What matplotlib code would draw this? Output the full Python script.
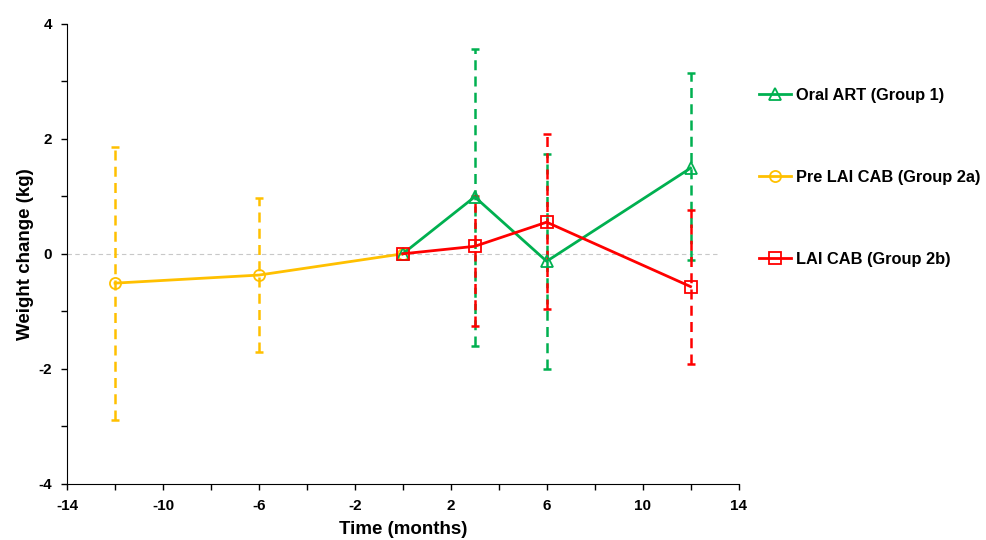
import matplotlib.pyplot as plt
from matplotlib.lines import Line2D

plt.rcParams['font.family'] = ['Liberation Sans', 'DejaVu Sans']
plt.rcParams['font.weight'] = 'bold'
plt.rcParams['axes.unicode_minus'] = False

# data (months, kg)
g1_x = [0, 3, 6, 12]
g1_y = [0, 0.99, -0.13, 1.49]
g1_up = [0, 3.56, 1.73, 3.14]
g1_lo = [0, -1.61, -2.00, -0.10]

g2a_x = [-12, -6, 0]
g2a_y = [-0.51, -0.37, 0]
g2a_up = [1.86, 0.97, 0]
g2a_lo = [-2.89, -1.70, 0]

g2b_x = [0, 3, 6, 12]
g2b_y = [0, 0.13, 0.55, -0.57]
g2b_up = [0, 1.00, 2.08, 0.77]
g2b_lo = [0, -1.25, -0.96, -1.91]

labels = ['Oral ART (Group 1)', 'Pre LAI CAB (Group 2a)', 'LAI CAB (Group 2b)']
colors = ['#00B050', '#FFC000', '#FF0000']
markers = ['^', 'o', 's']

fig = plt.figure(figsize=(9.86, 5.40), dpi=100)
ax = fig.add_axes([0.068, 0.104, 0.681, 0.852])

ax.plot([-14, 13.1], [0, 0], color='#c8c8c8', lw=0.8, ls=(0, (4, 3)), zorder=1)

series = [(g1_x, g1_y, g1_up, g1_lo), (g2a_x, g2a_y, g2a_up, g2a_lo), (g2b_x, g2b_y, g2b_up, g2b_lo)]
order = [1, 0, 2]
for i in order:
    x, y, up, lo = series[i]
    # only points with a real spread get an error bar
    keep = [k for k in range(len(x)) if up[k] - lo[k] > 0]
    xe = [x[k] for k in keep]
    ye = [y[k] for k in keep]
    ee = [[y[k] - lo[k] for k in keep], [up[k] - y[k] for k in keep]]
    eb = ax.errorbar(xe, ye, yerr=ee, fmt='none', ecolor=colors[i],
                     elinewidth=1.8, capsize=3, capthick=1.8, zorder=2)
    eb[2][0].set_linestyle((0, (4, 2.5)))
    ax.plot(x, y, color=colors[i], lw=2, marker=markers[i], ms=8,
            mfc='none', mec=colors[i], mew=1.3, zorder=3)

ax.set_xlim(-14, 14)
ax.set_ylim(-4, 4)
ax.set_xticks(range(-14, 15, 4))
ax.set_xticks(range(-14, 15, 2), minor=True)
ax.set_yticks(range(-4, 5, 2))
ax.set_yticks(range(-4, 5, 1), minor=True)
ax.tick_params(axis='both', which='both', direction='out', length=4, width=1,
               labelsize=11, pad=7)
for lab in ax.get_xticklabels() + ax.get_yticklabels():
    lab.set_fontweight('bold')
ax.spines['top'].set_visible(False)
ax.spines['right'].set_visible(False)
ax.set_xlabel('Time (months)', fontsize=13.5, fontweight='bold', labelpad=6)
ax.set_ylabel('Weight change (kg)', fontsize=13.5, fontweight='bold', labelpad=3)

handles = [Line2D([], [], color=c, lw=2, marker=m, ms=8, mfc='none', mec=c, mew=1.3)
           for c, m in zip(colors, markers)]
fig.legend(handles, labels, loc='upper left', bbox_to_anchor=(0.755, 0.865),
           frameon=False, labelspacing=4.1, handlelength=1.95, handletextpad=0.3,
           prop={'size': 11.8, 'weight': 'bold'})

fig.savefig('out.png', dpi=100)
